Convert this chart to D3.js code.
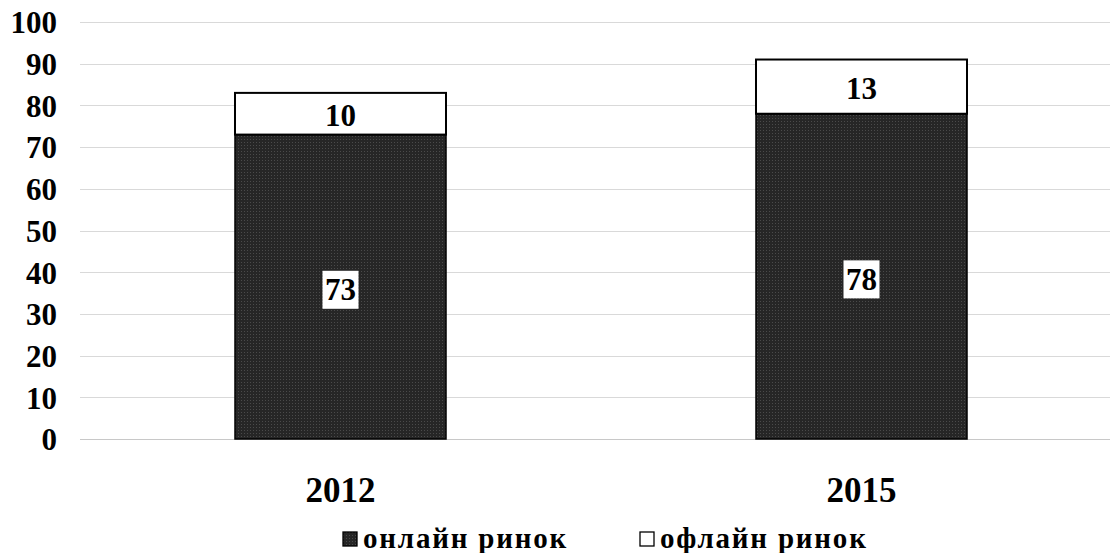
<!DOCTYPE html>
<html><head><meta charset="utf-8">
<script src="https://cdn.jsdelivr.net/npm/d3@7"></script>
<style>html,body{margin:0;padding:0;background:#fff;}svg{display:block;}</style>
</head><body>
<svg id="c" width="1110" height="553"></svg>
<script>
const categories = ["2012", "2015"];
const online = [73, 78];
const offline = [10, 13];
const seriesNames = ["онлайн ринок", "офлайн ринок"];
const yTicks = [0,10,20,30,40,50,60,70,80,90,100];

const svg = d3.select("#c");
const font = "'Liberation Serif','Times New Roman',serif";
const defs = svg.append("defs");
const pat = defs.append("pattern").attr("id","dots").attr("patternUnits","userSpaceOnUse").attr("width",3).attr("height",3);
pat.append("rect").attr("width",3).attr("height",3).attr("fill","#262626");
pat.append("rect").attr("x",1).attr("y",1).attr("width",1).attr("height",1).attr("fill","#4a4a4a");

const y = d3.scaleLinear().domain([0,100]).range([439,22]);
const x = d3.scaleBand().domain(categories).range([80,1122]).paddingInner(0.595).paddingOuter(0.2975);

// grid
svg.append("g").selectAll("line").data(yTicks).join("line")
  .attr("x1",80).attr("x2",1110).attr("y1",d=>Math.round(y(d))+0.5).attr("y2",d=>Math.round(y(d))+0.5)
  .attr("stroke",d=>d===0?"#c8c8c8":"#d9d9d9").attr("stroke-width",1);

// y axis labels
const yAxis = d3.axisLeft(y).tickValues(yTicks).tickSize(0).tickPadding(0);
const ga = svg.append("g").attr("transform","translate(57,0)").call(yAxis);
ga.select(".domain").remove();
ga.selectAll("text").attr("font-family",font).attr("font-weight","bold").attr("font-size",31).attr("fill","#000").attr("dy","0.35em");

// bars
const gb = svg.append("g");
categories.forEach((c,i)=>{
  const x0 = x(c), w = x.bandwidth();
  gb.append("rect").attr("x",x0).attr("y",y(online[i])).attr("width",w).attr("height",y(0)-y(online[i]))
    .attr("fill","url(#dots)").attr("stroke","#000").attr("stroke-width",1.5);
  gb.append("rect").attr("x",x0).attr("y",y(online[i]+offline[i])).attr("width",w).attr("height",y(online[i])-y(online[i]+offline[i]))
    .attr("fill","#fff").attr("stroke","#000").attr("stroke-width",2);
  const cy = (y(0)+y(online[i]))/2;
  const cx = x0 + w/2;
  gb.append("rect").attr("x",cx-18).attr("y",cy-16).attr("width",36).attr("height",38).attr("fill","#fff");
  gb.append("text").attr("x",cx).attr("y",cy+3).attr("text-anchor","middle").attr("dominant-baseline","central")
    .attr("font-family",font).attr("font-weight","bold").attr("font-size",31).text(online[i]);
  const cy2 = (y(online[i])+y(online[i]+offline[i]))/2;
  gb.append("text").attr("x",cx).attr("y",cy2+2).attr("text-anchor","middle").attr("dominant-baseline","central")
    .attr("font-family",font).attr("font-weight","bold").attr("font-size",31).text(offline[i]);
});

// x labels
svg.append("g").selectAll("text").data(categories).join("text")
  .attr("x",d=>x(d)+x.bandwidth()/2).attr("y",490).attr("text-anchor","middle").attr("dominant-baseline","central")
  .attr("font-family",font).attr("font-weight","bold").attr("font-size",35).text(d=>d);

// legend
const lg = svg.append("g");
const lx = [343, 640];
seriesNames.forEach((n,i)=>{
  lg.append("rect").attr("x",lx[i]).attr("y",532).attr("width",14).attr("height",14)
    .attr("fill",i===0?"url(#dots)":"#fff").attr("stroke","#000").attr("stroke-width",1.3);
  lg.append("text").attr("x",lx[i]+20).attr("y",538).attr("dominant-baseline","central")
    .attr("font-family",font).attr("font-weight","bold").attr("font-size",29).attr("letter-spacing","1.8").text(n);
});
</script>
</body></html>
